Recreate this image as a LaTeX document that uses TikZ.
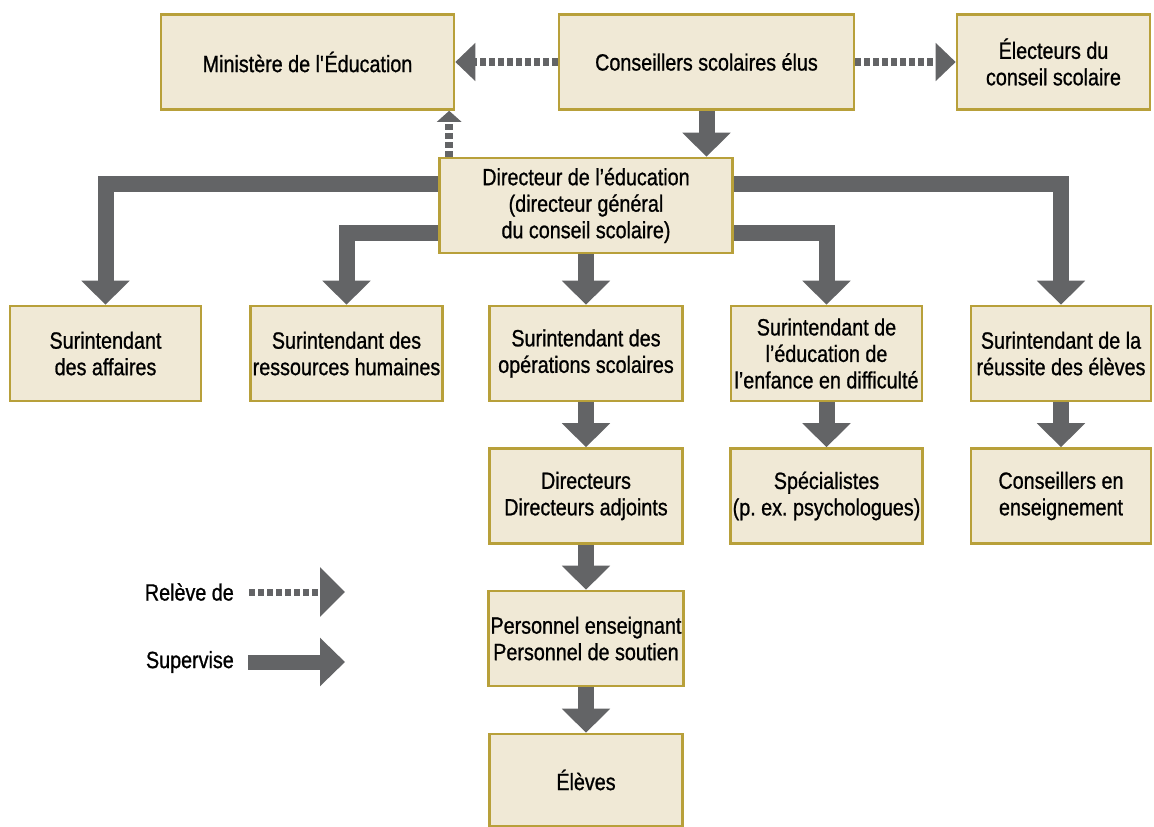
\documentclass[tikz,border=0pt]{standalone}
\usepackage{fontspec}
\setmainfont{Liberation Sans}[FakeStretch=0.84,FakeBold=0.9]
\usetikzlibrary{arrows.meta}
\definecolor{boxfill}{RGB}{240,233,214}
\definecolor{boxline}{RGB}{184,160,58}
\definecolor{arrowgrey}{RGB}{99,100,102}
\newcommand\boxfont{\fontsize{23.5}{26.5}\selectfont}
\pgfdeclarelayer{bg}
\pgfsetlayers{bg,main}
\tikzset{
  box/.style={draw=boxline, fill=boxfill, line width=2.6pt, align=center, inner sep=2pt, font=\boxfont},
  sup/.style={draw=arrowgrey, line width=16pt, -{Triangle[width=47pt,length=24pt]}},
  rel/.style={draw=arrowgrey, line width=8pt, dash pattern=on 6pt off 3pt, -{Triangle[width=37pt,length=20pt]}},
  relsmall/.style={draw=arrowgrey, line width=8pt, dash pattern=on 6pt off 3pt, -{Triangle[width=24pt,length=11pt]}},
  legtext/.style={font=\boxfont, anchor=east, inner sep=0pt},
}
\frenchspacing
\begin{document}
\begin{tikzpicture}[x=1pt,y=-1pt]
\useasboundingbox (0,0) rectangle (1154,827);
% top row
\node[box, minimum width=293pt, minimum height=95pt] (min) at (307.5,62) {Ministère de l\textquotesingle Éducation};
\node[box, minimum width=295pt, minimum height=95pt] (cse) at (706.5,62) {Conseillers scolaires élus};
\node[box, minimum width=193pt, minimum height=95pt] (ele) at (1053.5,62) {Électeurs du\\conseil scolaire};
% director
\node[box, minimum width=293pt, minimum height=95pt] (dir) at (586,205.5) {Directeur de l’éducation\\(directeur général\\du conseil scolaire)};
% level 2
\node[box, minimum width=191pt, minimum height=95pt] (s1) at (105.5,353.5) {Surintendant\\des affaires};
\node[box, minimum width=191pt, minimum height=95pt] (s2) at (346.5,353.5) {Surintendant des\\ressources humaines};
\node[box, minimum width=193pt, minimum height=95pt] (s3) at (586,353.5) {Surintendant des\\opérations scolaires};
\node[box, minimum width=191pt, minimum height=95pt] (s4) at (826.5,353.5) {Surintendant de\\l’éducation de\\l’enfance en difficulté};
\node[box, minimum width=180pt, minimum height=95pt] (s5) at (1061,353.5) {Surintendant de la\\réussite des élèves};
% level 3
\node[box, minimum width=193pt, minimum height=95pt] (d3) at (586,496) {Directeurs\\Directeurs adjoints};
\node[box, minimum width=191pt, minimum height=95pt] (spec) at (826.5,496) {Spécialistes\\(p. ex. psychologues)};
\node[box, minimum width=180pt, minimum height=95pt] (cens) at (1061,496) {Conseillers en\\enseignement};
% level 4,5
\node[box, minimum width=193pt, minimum height=95pt] (pers) at (586,638.5) {Personnel enseignant\\Personnel de soutien};
\node[box, minimum width=193pt, minimum height=92pt] (elev) at (586,780) {Élèves};
% legend
\node[legtext] (lrel) at (234,592) {Relève de};
\node[legtext] (lsup) at (234,662) {Supervise};
\coordinate (lrelend) at (345,592);
\coordinate (lsupend) at (345,662);

\begin{pgfonlayer}{bg}
\draw[rel] (cse.west) -- (min.east);
\draw[rel] (cse.east) -- (ele.west);
\draw[relsmall] ([xshift=11pt]dir.north west) -- ([xshift=11pt]dir.north west |- min.south);
\draw[sup] (cse.south) -- (cse.south |- dir.north);
\draw[sup] ([yshift=22pt]dir.west) -| (s1.north);
\draw[sup] ([yshift=-27pt]dir.west) -| (s2.north);
\draw[sup] (dir.south) -- (s3.north);
\draw[sup] ([yshift=-27pt]dir.east) -| (s4.north);
\draw[sup] ([yshift=22pt]dir.east) -| (s5.north);
\draw[sup] (s3.south) -- (d3.north);
\draw[sup] (s4.south) -- (spec.north);
\draw[sup] (s5.south) -- (cens.north);
\draw[sup] (d3.south) -- (pers.north);
\draw[sup] (pers.south) -- (elev.north);
\end{pgfonlayer}
\draw[draw=arrowgrey, line width=7pt, dash pattern=on 6pt off 3pt, -{Triangle[width=48pt,length=25pt]}] ([xshift=15pt]lrel.east) -- (lrelend);
\draw[draw=arrowgrey, line width=15pt, -{Triangle[width=47pt,length=25pt]}] ([xshift=14pt]lsup.east) -- (lsupend);
\end{tikzpicture}
\end{document}
